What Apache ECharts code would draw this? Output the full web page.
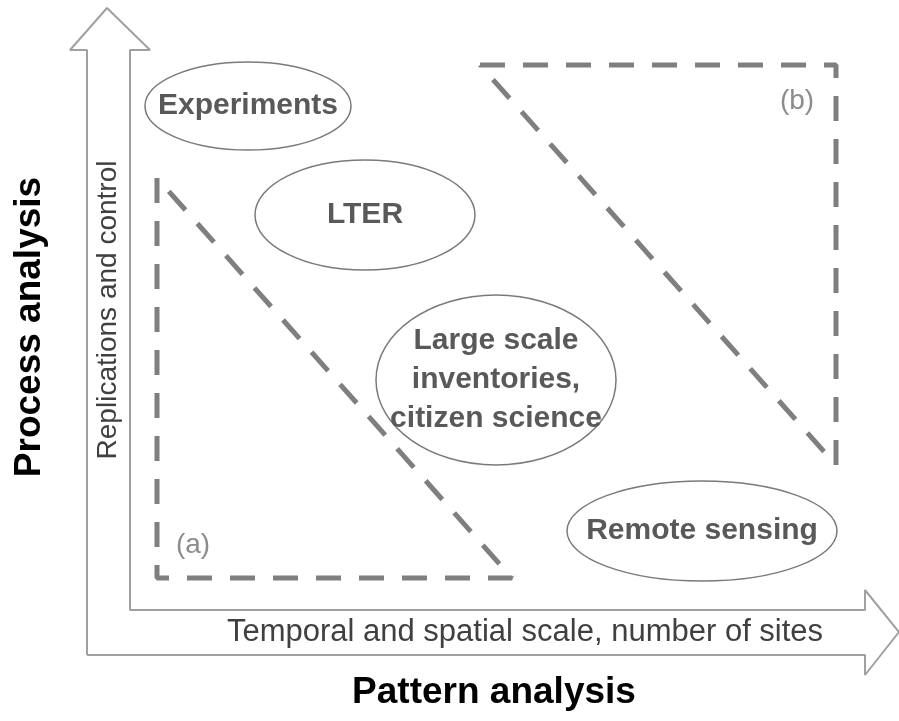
<!doctype html>
<html>
    <head>
        <meta charset="utf-8">
        <title>Process vs pattern analysis</title>
        <style>
            html, body { margin: 0; padding: 0; background: #fff; }
            #main { width: 899px; height: 721px; }
        </style>
    </head>
    <body>
        <div id="main"></div>
        <script src="https://cdn.jsdelivr.net/npm/echarts@6/dist/echarts.min.js"></script>
        <script>

            var myChart = echarts.init(document.getElementById('main'));

            // approaches, drawn as ellipses: [cx, cy, rx, ry] in picture units
            var approachNames = ['Experiments', 'LTER', 'Large scale\ninventories,\ncitizen science', 'Remote sensing'];
            var approachBoxes = [[248, 106, 103, 44], [365, 215, 110, 55], [496, 380, 120, 85], [702, 531, 135, 50]];

            // the two dashed triangles
            var triangleA = [[157, 178], [157, 578], [512, 578], [157, 178]];
            var triangleB = [[480, 65], [836, 65], [836, 465], [480, 65]];
            var triangleNames = ['(a)', '(b)'];
            var triangleLabelAt = [[193, 545], [797, 101]];

            // outline of the two joined axis arrows
            var arrowOutline = [[87, 655], [87, 50], [70, 50], [107, 8], [150, 50], [130, 50], [130, 610],
                [865, 610], [865, 590], [899, 632], [865, 675], [865, 655], [87, 655]];

            var dashStyle = { color: '#7f7f7f', width: 5, type: [25, 18] };
            var font = '"Liberation Sans", Arial, sans-serif';

            myChart.setOption(option = {
                animation: false,
                grid: { left: 0, right: 0, top: 0, bottom: 0 },
                xAxis: { type: 'value', min: 0, max: 899, show: false },
                yAxis: { type: 'value', min: 0, max: 721, inverse: true, show: false },
                series: [{
                    type: 'line',
                    data: arrowOutline,
                    symbol: 'none',
                    silent: true,
                    lineStyle: { color: '#a0a0a0', width: 2 }
                }, {
                    type: 'line',
                    data: triangleA,
                    symbol: 'none',
                    silent: true,
                    lineStyle: dashStyle
                }, {
                    type: 'line',
                    data: triangleB,
                    symbol: 'none',
                    silent: true,
                    lineStyle: dashStyle
                }, {
                    type: 'custom',
                    silent: true,
                    data: approachBoxes,
                    renderItem: function (params, api) {
                        var c = api.coord([api.value(0), api.value(1)]);
                        var s = api.size([api.value(2), api.value(3)]);
                        return {
                            type: 'group',
                            children: [{
                                type: 'ellipse',
                                shape: { cx: c[0], cy: c[1], rx: s[0], ry: s[1] },
                                style: { fill: '#fff', stroke: '#7a7a7a', lineWidth: 1.5 }
                            }, {
                                type: 'text',
                                style: {
                                    text: approachNames[params.dataIndex],
                                    x: c[0], y: c[1],
                                    align: 'center', verticalAlign: 'middle',
                                    font: 'bold 30px ' + font,
                                    lineHeight: 39,
                                    fill: '#595959'
                                }
                            }]
                        };
                    }
                }, {
                    type: 'custom',
                    silent: true,
                    data: triangleLabelAt,
                    renderItem: function (params, api) {
                        var c = api.coord([api.value(0), api.value(1)]);
                        return {
                            type: 'text',
                            style: {
                                text: triangleNames[params.dataIndex],
                                x: c[0], y: c[1],
                                align: 'center', verticalAlign: 'middle',
                                font: '28px ' + font,
                                fill: '#8c8c8c'
                            }
                        };
                    }
                }],
                graphic: [{
                    type: 'text',
                    x: 108, y: 310,
                    rotation: Math.PI / 2,
                    style: {
                        text: 'Replications and control',
                        align: 'center', verticalAlign: 'middle',
                        font: '28px ' + font,
                        fill: '#404040'
                    }
                }, {
                    type: 'text',
                    x: 30, y: 327,
                    rotation: Math.PI / 2,
                    style: {
                        text: 'Process analysis',
                        align: 'center', verticalAlign: 'middle',
                        font: 'bold 37px ' + font,
                        fill: '#000'
                    }
                }, {
                    type: 'text',
                    x: 525, y: 632,
                    style: {
                        text: 'Temporal and spatial scale, number of sites',
                        align: 'center', verticalAlign: 'middle',
                        font: '31px ' + font,
                        fill: '#404040'
                    }
                }, {
                    type: 'text',
                    x: 494, y: 693,
                    style: {
                        text: 'Pattern analysis',
                        align: 'center', verticalAlign: 'middle',
                        font: 'bold 37px ' + font,
                        fill: '#000'
                    }
                }]
            });

        </script>
    </body>
</html>
